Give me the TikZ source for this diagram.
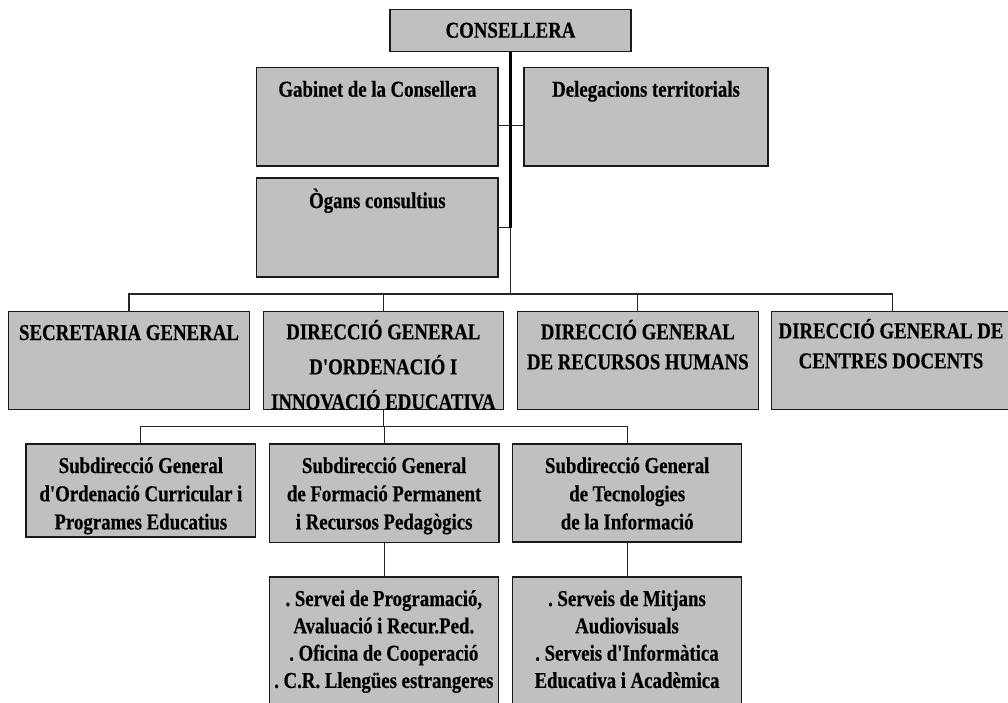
\documentclass[tikz,border=0pt]{standalone}
\usepackage{fontspec}
\setmainfont{Liberation Serif}[FakeStretch=0.83,Ligatures=TeXOff,BoldFeatures={FakeBold=0.4}]
\definecolor{boxfill}{HTML}{C0C0C0}
\definecolor{edge}{HTML}{1A1A1A}
\begin{document}
\begin{tikzpicture}[x=1pt,y=-1pt,
  box/.style={draw=edge, line width=1.3pt, fill=boxfill, inner sep=0pt, outer sep=0pt, anchor=north west},
  lbl/.style={text width=260pt, anchor=base, inner sep=0pt, font=\bfseries\fontsize{22.7}{#1}\selectfont,
    execute at begin node={\centering\spaceskip=4.6pt\relax\xspaceskip=4.6pt\relax}},
  lbl/.default=27,
  conn/.style={draw=black!85, line width=1.1pt},
  trunk/.style={draw=black, line width=2.2pt}]
\useasboundingbox (0,0) rectangle (1008,702);
\clip (0,0) rectangle (1008,702);

% boxes
\node[box, minimum width=241pt, minimum height=42.4pt] (cons) at (390,9.3) {};
\node[box, minimum width=241.3pt, minimum height=98.3pt] (gab) at (256.7,67.7) {};
\node[box, minimum width=244pt, minimum height=98.3pt] (del) at (524,67.7) {};
\node[box, minimum width=241.3pt, minimum height=99pt] (org) at (256.7,178) {};
\node[box, minimum width=240.6pt, minimum height=98pt] (sg) at (8.7,311.7) {};
\node[box, minimum width=240pt, minimum height=98pt] (dgoie) at (263.3,311.7) {};
\node[box, minimum width=241pt, minimum height=98pt] (dgrh) at (517.3,311.7) {};
\node[box, minimum width=242pt, minimum height=98pt] (dgcd) at (771.7,311.7) {};
\node[box, minimum width=229.7pt, minimum height=93pt] (s1) at (26,444) {};
\node[box, minimum width=229.7pt, minimum height=98.7pt] (s2) at (269.3,444) {};
\node[box, minimum width=229pt, minimum height=98pt] (s3) at (512.7,444) {};
\node[box, minimum width=229pt, minimum height=135pt] (l1) at (269.3,577) {};
\node[box, minimum width=229.4pt, minimum height=135pt] (l2) at (512.3,577) {};

% labels
\node[lbl] (tcons) at (510.5,37.7) {CONSELLERA};
\node[lbl] (tgab) at (377.35,96.7) {Gabinet de la Consellera};
\node[lbl] (tdel) at (646,96.7) {Delegacions territorials};
\node[lbl] (torg) at (377.35,208) {Ògans consultius};
\node[lbl] (tsg) at (129,340) {SECRETARIA GENERAL};
\node[lbl=35] (tdgoie) at (383.3,339.3) {DIRECCIÓ GENERAL\\D'ORDENACIÓ I\\INNOVACIÓ EDUCATIVA};
\node[lbl=30] (tdgrh) at (637.8,339.3) {DIRECCIÓ GENERAL\\DE RECURSOS HUMANS};
\node[lbl=30] (tdgcd) at (891,338.3) {DIRECCIÓ GENERAL DE\\CENTRES DOCENTS};
\node[lbl=28.2] (ts1) at (140.85,473) {Subdirecció General\\d'Ordenació Curricular i\\Programes Educatius};
\node[lbl=28.2] (ts2) at (384.15,473) {Subdirecció General\\de Formació Permanent\\i Recursos Pedagògics};
\node[lbl=28.2] (ts3) at (627.2,473) {Subdirecció General\\de Tecnologies\\de la Informació};
\node[lbl=27.3] (tl1) at (383.8,606) {. Servei de Programació,\\Avaluació i Recur.Ped.\\. Oficina de Cooperació\\. C.R. Llengües estrangeres};
\node[lbl=27.3] (tl2) at (627,606) {. Serveis de Mitjans\\Audiovisuals\\. Serveis d'Informàtica\\Educativa i Acadèmica};

% connectors
\coordinate (j1) at (cons.south |- org.east);
\coordinate (bus) at (0,294);
\coordinate (sbus) at (0,426.7);
\draw[conn] ([yshift=-9pt]gab.east) -- ([yshift=-9pt]del.west);
\draw[conn] (org.east) -- (j1);
\draw[conn] (j1) -- (j1 |- bus);
\draw[trunk] (cons.south) -- (j1);
\draw[conn] (sg.north) |- (bus -| dgcd.north) -- (dgcd.north);
\draw[conn] (dgoie.north) -- (dgoie.north |- bus);
\draw[conn] (dgrh.north) -- (dgrh.north |- bus);
\draw[conn] (dgoie.south) -- (dgoie.south |- sbus);
\draw[conn] (s1.north) |- (sbus -| s3.north) -- (s3.north);
\draw[conn] (s2.north) -- (s2.north |- sbus);
\draw[conn] (s2.south) -- (s2.south |- l1.north);
\draw[conn] (s3.south) -- (s3.south |- l2.north);
\end{tikzpicture}
\end{document}
